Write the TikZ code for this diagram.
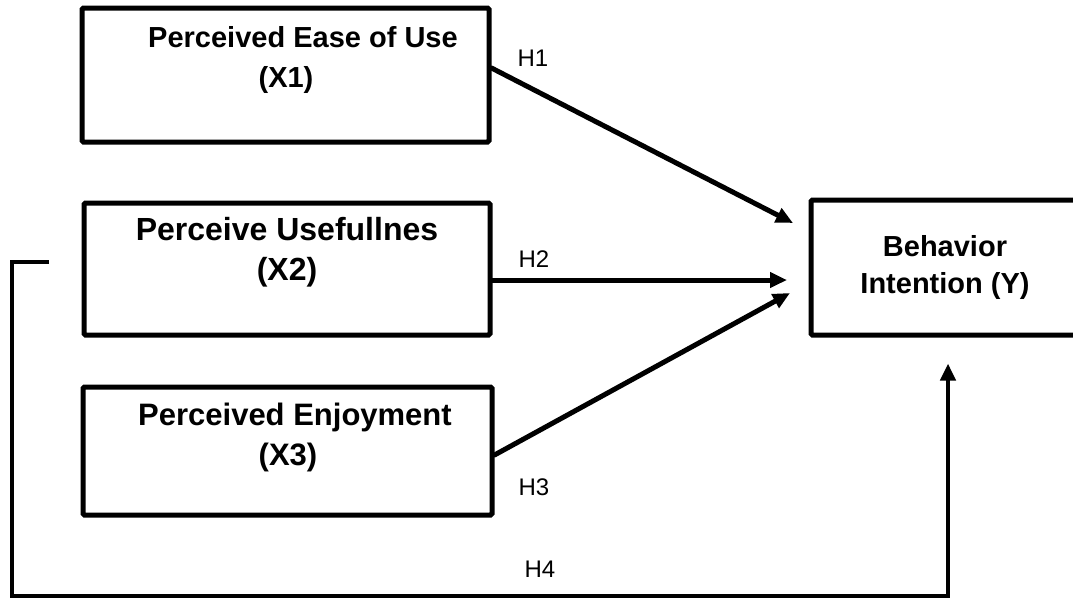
\documentclass[tikz,border=0pt]{standalone}
\usepackage{fontspec}
\setmainfont{Liberation Sans}
\usetikzlibrary{arrows.meta,calc}
\begin{document}
\begin{tikzpicture}[x=1pt,y=-1pt,
  box/.style={draw, line width=5pt, rounded corners=1.5pt, inner sep=0pt},
  lbl/.style={font=\fontsize{29}{40}\selectfont\bfseries, align=center, inner sep=0pt},
  hyp/.style={font=\fontsize{24}{28}\selectfont, inner sep=0pt},
  arr/.style={line width=5pt, line cap=round, -{Triangle[length=17pt,width=15pt]}},
]
\useasboundingbox (0,0) rectangle (1073,598);
\clip (0,0) rectangle (1073,598);
% boxes
\node[box, minimum width=407pt, minimum height=134pt] (b1) at (285.5,75) {};
\node[box, minimum width=406pt, minimum height=132pt] (b2) at (287,269) {};
\node[box, minimum width=409pt, minimum height=128pt] (b3) at (287.5,451) {};
\node[box, minimum width=269pt, minimum height=135pt] (by) at (945.5,267.5) {};
% texts
\node[lbl] (b1t) at (286,60) {\hspace*{34pt}Perceived Ease of Use\\(X1)};
\node[lbl, font=\fontsize{32}{40}\selectfont\bfseries] (b2t) at (287,252) {Perceive Usefullnes\\(X2)};
\node[lbl, font=\fontsize{31}{40}\selectfont\bfseries] (b3t) at (288,437) {\hspace*{14pt}Perceived Enjoyment\\(X3)};
\node[lbl, font=\fontsize{29}{37}\selectfont\bfseries] (byt) at (945,267.5) {Behavior\\Intention (Y)};
% arrow tips and free ends
\coordinate (t1) at (793,223);
\coordinate (t2) at (787,280);
\coordinate (t3) at (790,293);
\coordinate (h4s) at (49,262);
\coordinate (h4l) at (12,596);
% connectors
\draw[arr] ([yshift=7pt]b1.east) -- (t1);
\draw[arr] ([yshift=-11pt]b2.east) -- (t2);
\draw[arr] ([yshift=-4pt]b3.east) -- (t3);
\draw[arr, line width=4.5pt, line cap=butt, shorten >=26pt] (h4s) -| (h4l) -| ([xshift=2.5pt]by.south);
% labels
\node[hyp] (h1) at (533,58) {H1};
\node[hyp] (h2) at (534,259) {H2};
\node[hyp] (h3) at (534,487) {H3};
\node[hyp] (h4) at (540,569) {H4};
\end{tikzpicture}
\end{document}
